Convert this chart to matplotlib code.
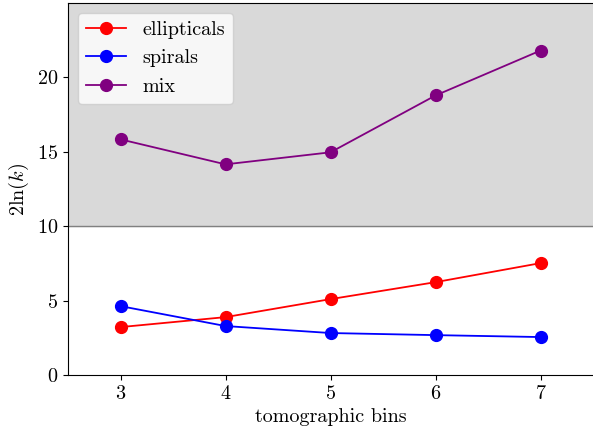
import matplotlib
matplotlib.use('Agg')
import numpy as np
from matplotlib import pyplot as plt

plt.rcParams['font.family'] = 'serif'
plt.rcParams['font.serif'] = ['cmr10']
plt.rcParams['mathtext.fontset'] = 'cm'
plt.rcParams['axes.formatter.use_mathtext'] = True
plt.rcParams['font.size'] = 14.5

# number of tomographic bins
bins = [3, 4, 5, 6, 7]
# 2 ln(k) per sample
ell = [3.22, 3.89, 5.10, 6.24, 7.52]
spi = [4.63, 3.29, 2.82, 2.68, 2.55]
mix = [15.84, 14.16, 14.97, 18.79, 21.81]

fig = plt.figure(figsize=(5.93, 4.37), dpi=100)
ax = fig.add_axes([0.1147, 0.1419, 0.8853, 0.851])
ax.axhspan(10, 25, color='#d9d9d9', zorder=0)
ax.axhline(10, color='gray', lw=1, zorder=1)
ax.plot(bins, ell, 'o-', color='red', ms=8.5, lw=1.3, label='ellipticals')
ax.plot(bins, spi, 'o-', color='blue', ms=8.5, lw=1.3, label='spirals')
ax.plot(bins, mix, 'o-', color='purple', ms=8.5, lw=1.3, label='mix')
ax.spines['right'].set_visible(False)
ax.set_xlim(2.5, 7.5)
ax.set_ylim(0, 25)
ax.set_xticks(bins)
ax.set_yticks([0, 5, 10, 15, 20])
ax.set_xlabel('tomographic bins')
ax.set_ylabel(r'$2\ln(k)$')
ax.legend(loc='upper left')
fig.savefig('out.png', dpi=100)
